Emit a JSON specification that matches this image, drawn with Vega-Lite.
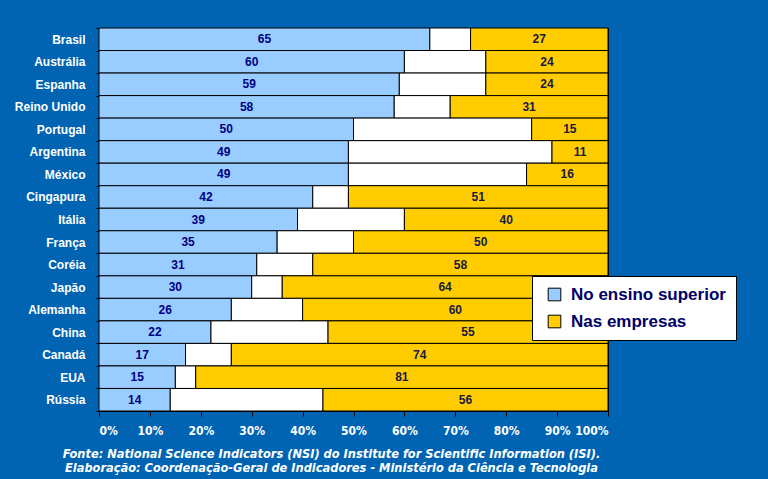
{
  "$schema": "https://vega.github.io/schema/vega-lite/v6.json",
  "width": 509,
  "height": 383,
  "autosize": {"type": "none"},
  "padding": {"left": 99, "top": 28, "right": 160, "bottom": 68},
  "background": "#0064b2",
  "config": {
    "view": {"stroke": "black"},
    "font": "Liberation Sans"
  },
  "title": {
    "text": ["Fonte: National Science Indicators (NSI) do Institute for Scientific Information (ISI).", "Elaboração: Coordenação-Geral de Indicadores - Ministério da Ciência e Tecnologia"],
    "orient": "bottom",
    "anchor": "middle",
    "dx": -22,
    "offset": 12,
    "font": "DejaVu Sans Condensed",
    "fontStyle": "italic",
    "fontWeight": "bold",
    "fontSize": 12.7,
    "lineHeight": 14,
    "color": "white"
  },
  "data": {
    "values": [
      {"pais": "Brasil", "tipo": "No ensino superior", "valor": 65},
      {"pais": "Brasil", "tipo": "Nas instituições de governo e outras", "valor": 8},
      {"pais": "Brasil", "tipo": "Nas empresas", "valor": 27},
      {"pais": "Austrália", "tipo": "No ensino superior", "valor": 60},
      {"pais": "Austrália", "tipo": "Nas instituições de governo e outras", "valor": 16},
      {"pais": "Austrália", "tipo": "Nas empresas", "valor": 24},
      {"pais": "Espanha", "tipo": "No ensino superior", "valor": 59},
      {"pais": "Espanha", "tipo": "Nas instituições de governo e outras", "valor": 17},
      {"pais": "Espanha", "tipo": "Nas empresas", "valor": 24},
      {"pais": "Reino Unido", "tipo": "No ensino superior", "valor": 58},
      {"pais": "Reino Unido", "tipo": "Nas instituições de governo e outras", "valor": 11},
      {"pais": "Reino Unido", "tipo": "Nas empresas", "valor": 31},
      {"pais": "Portugal", "tipo": "No ensino superior", "valor": 50},
      {"pais": "Portugal", "tipo": "Nas instituições de governo e outras", "valor": 35},
      {"pais": "Portugal", "tipo": "Nas empresas", "valor": 15},
      {"pais": "Argentina", "tipo": "No ensino superior", "valor": 49},
      {"pais": "Argentina", "tipo": "Nas instituições de governo e outras", "valor": 40},
      {"pais": "Argentina", "tipo": "Nas empresas", "valor": 11},
      {"pais": "México", "tipo": "No ensino superior", "valor": 49},
      {"pais": "México", "tipo": "Nas instituições de governo e outras", "valor": 35},
      {"pais": "México", "tipo": "Nas empresas", "valor": 16},
      {"pais": "Cingapura", "tipo": "No ensino superior", "valor": 42},
      {"pais": "Cingapura", "tipo": "Nas instituições de governo e outras", "valor": 7},
      {"pais": "Cingapura", "tipo": "Nas empresas", "valor": 51},
      {"pais": "Itália", "tipo": "No ensino superior", "valor": 39},
      {"pais": "Itália", "tipo": "Nas instituições de governo e outras", "valor": 21},
      {"pais": "Itália", "tipo": "Nas empresas", "valor": 40},
      {"pais": "França", "tipo": "No ensino superior", "valor": 35},
      {"pais": "França", "tipo": "Nas instituições de governo e outras", "valor": 15},
      {"pais": "França", "tipo": "Nas empresas", "valor": 50},
      {"pais": "Coréia", "tipo": "No ensino superior", "valor": 31},
      {"pais": "Coréia", "tipo": "Nas instituições de governo e outras", "valor": 11},
      {"pais": "Coréia", "tipo": "Nas empresas", "valor": 58},
      {"pais": "Japão", "tipo": "No ensino superior", "valor": 30},
      {"pais": "Japão", "tipo": "Nas instituições de governo e outras", "valor": 6},
      {"pais": "Japão", "tipo": "Nas empresas", "valor": 64},
      {"pais": "Alemanha", "tipo": "No ensino superior", "valor": 26},
      {"pais": "Alemanha", "tipo": "Nas instituições de governo e outras", "valor": 14},
      {"pais": "Alemanha", "tipo": "Nas empresas", "valor": 60},
      {"pais": "China", "tipo": "No ensino superior", "valor": 22},
      {"pais": "China", "tipo": "Nas instituições de governo e outras", "valor": 23},
      {"pais": "China", "tipo": "Nas empresas", "valor": 55},
      {"pais": "Canadá", "tipo": "No ensino superior", "valor": 17},
      {"pais": "Canadá", "tipo": "Nas instituições de governo e outras", "valor": 9},
      {"pais": "Canadá", "tipo": "Nas empresas", "valor": 74},
      {"pais": "EUA", "tipo": "No ensino superior", "valor": 15},
      {"pais": "EUA", "tipo": "Nas instituições de governo e outras", "valor": 4},
      {"pais": "EUA", "tipo": "Nas empresas", "valor": 81},
      {"pais": "Rússia", "tipo": "No ensino superior", "valor": 14},
      {"pais": "Rússia", "tipo": "Nas instituições de governo e outras", "valor": 30},
      {"pais": "Rússia", "tipo": "Nas empresas", "valor": 56}
    ]
  },
  "encoding": {
    "y": {
      "field": "pais",
      "type": "nominal",
      "sort": ["Brasil", "Austrália", "Espanha", "Reino Unido", "Portugal", "Argentina", "México", "Cingapura", "Itália", "França", "Coréia", "Japão", "Alemanha", "China", "Canadá", "EUA", "Rússia"],
      "scale": {"paddingInner": 0, "paddingOuter": 0},
      "axis": {
        "title": null,
        "labelColor": "white",
        "labelFont": "Liberation Sans",
        "labelFontWeight": "bold",
        "labelFontSize": 12,
        "labelPadding": 11,
        "tickBand": "extent",
        "tickSize": 3,
        "tickColor": "black",
        "domainColor": "black"
      }
    }
  },
  "layer": [
    {
      "mark": {"type": "bar", "stroke": "black", "strokeWidth": 1},
      "encoding": {
        "x": {
          "field": "valor",
          "type": "quantitative",
          "stack": "zero",
          "scale": {"domain": [0, 100], "nice": false},
          "axis": {
            "title": null,
            "values": [0, 10, 20, 30, 40, 50, 60, 70, 80, 90, 100],
            "labelExpr": "datum.value + '%'",
            "labelColor": "white",
            "labelFont": "DejaVu Sans Condensed",
            "labelFontWeight": "bold",
            "labelFontSize": 12,
            "labelPadding": 9,
            "tickSize": 5,
            "tickColor": "black",
            "domainColor": "black",
            "grid": false
          }
        },
        "color": {
          "field": "tipo",
          "type": "nominal",
          "scale": {
            "domain": ["No ensino superior", "Nas instituições de governo e outras", "Nas empresas"],
            "range": ["#99ccff", "#ffffff", "#ffcc00"]
          },
          "legend": {
            "values": ["No ensino superior", "Nas empresas"],
            "title": null,
            "orient": "none",
            "legendX": 433,
            "legendY": 248,
            "fillColor": "white",
            "strokeColor": "black",
            "padding": 10,
            "symbolType": "square",
            "symbolSize": 160,
            "symbolStrokeColor": "black",
            "symbolStrokeWidth": 1,
            "symbolOpacity": 1,
            "symbolOffset": 4,
            "labelFont": "Liberation Sans",
            "labelFontWeight": "bold",
            "labelFontSize": 17,
            "labelColor": "#000066",
            "labelOffset": 8,
            "labelLimit": 300,
            "rowPadding": 9
          }
        },
        "order": {"field": "tipo", "sort": "descending"}
      }
    },
    {
      "transform": [{"filter": "datum.tipo == 'No ensino superior'"}],
      "mark": {"type": "text", "font": "Liberation Sans", "fontWeight": "bold", "fontSize": 12, "color": "#000080"},
      "encoding": {
        "x": {"field": "valor", "type": "quantitative", "scale": {"domain": [0, 200], "nice": false}, "axis": null},
        "text": {"field": "valor", "type": "quantitative"}
      }
    },
    {
      "transform": [{"filter": "datum.tipo == 'Nas empresas'"}],
      "mark": {"type": "text", "font": "Liberation Sans", "fontWeight": "bold", "fontSize": 12, "color": "#1a1a40"},
      "encoding": {
        "x": {"field": "valor", "type": "quantitative", "scale": {"domain": [0, 200], "nice": false, "reverse": true}, "axis": null},
        "text": {"field": "valor", "type": "quantitative"}
      }
    }
  ],
  "resolve": {"scale": {"x": "independent"}}
}
